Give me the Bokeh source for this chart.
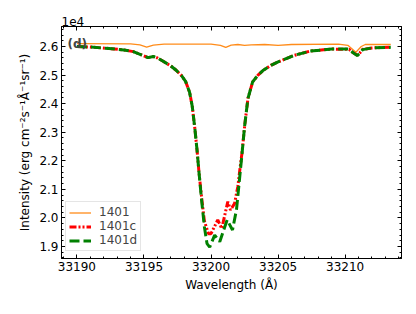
import numpy as np
from bokeh.plotting import figure
from bokeh.models import (Range1d, FixedTicker, PrintfTickFormatter, LinearAxis,
                          Label, Legend, LegendItem, Title)
from bokeh.embed import file_html
from bokeh.resources import INLINE

# ---- data (intensity in units of 1e4 erg cm^-2 s^-1 A^-1 sr^-1) ----
wl_1401 = [33190.0, 33194.0, 33194.7, 33195.2, 33195.7, 33196.5, 33200.0, 33200.7,
           33201.1, 33201.5, 33202.0, 33202.5, 33203.0, 33204.0, 33205.0, 33206.0,
           33209.5, 33210.2, 33210.8, 33211.2, 33211.5, 33213.4]
int_1401 = [2.610, 2.609, 2.606, 2.598, 2.605, 2.608, 2.608, 2.604,
            2.597, 2.605, 2.607, 2.604, 2.606, 2.607, 2.604, 2.607,
            2.608, 2.604, 2.580, 2.600, 2.607, 2.607]

wl_1401c = [33190.0, 33191.0, 33192.4, 33193.5, 33194.2, 33194.8, 33195.3, 33195.7,
            33196.0, 33196.4, 33197.0, 33197.4, 33197.8, 33198.1, 33198.4, 33198.6,
            33198.8, 33198.95, 33199.1, 33199.3, 33199.5, 33199.8, 33200.0, 33200.5,
            33200.8, 33201.25, 33201.45, 33201.75, 33202.0, 33202.15, 33202.3, 33202.5,
            33202.75, 33203.1, 33203.5, 33203.9, 33204.5, 33205.0, 33206.2, 33207.4,
            33209.0, 33210.3, 33210.6, 33210.9, 33211.1, 33211.3, 33212.0, 33213.4]
int_1401c = [2.600, 2.598, 2.593, 2.588, 2.582, 2.571, 2.561, 2.565,
             2.560, 2.549, 2.532, 2.517, 2.498, 2.478, 2.440, 2.390,
             2.310, 2.240, 2.160, 2.070, 1.990, 1.945, 1.945, 1.993,
             1.963, 2.057, 2.028, 2.050, 2.110, 2.170, 2.225, 2.320,
             2.418, 2.476, 2.500, 2.517, 2.535, 2.546, 2.569, 2.584,
             2.591, 2.590, 2.578, 2.570, 2.578, 2.590, 2.595, 2.598]

wl_1401d = [33190.0, 33191.0, 33192.4, 33193.5, 33194.2, 33194.8, 33195.3, 33195.7,
            33196.0, 33196.4, 33197.0, 33197.4, 33197.8, 33198.1, 33198.4, 33198.6,
            33198.8, 33198.95, 33199.1, 33199.3, 33199.5, 33199.7, 33199.9, 33200.27,
            33200.65, 33201.2, 33201.6, 33201.9, 33202.1, 33202.3, 33202.5, 33202.75,
            33203.1, 33203.5, 33203.9, 33204.5, 33205.0, 33206.2, 33207.4, 33209.0,
            33210.3, 33210.6, 33210.9, 33211.1, 33211.3, 33212.0, 33213.4]
int_1401d = [2.600, 2.598, 2.593, 2.588, 2.582, 2.571, 2.561, 2.565,
             2.560, 2.549, 2.532, 2.517, 2.498, 2.478, 2.440, 2.390,
             2.310, 2.240, 2.160, 2.060, 1.970, 1.910, 1.898, 1.940,
             1.917, 1.993, 1.958, 2.030, 2.125, 2.220, 2.320, 2.418,
             2.476, 2.500, 2.517, 2.535, 2.546, 2.569, 2.584, 2.591,
             2.591, 2.578, 2.568, 2.576, 2.589, 2.595, 2.597]

x_ticks = [33190, 33195, 33200, 33205, 33210]
y_ticks = [1.9, 2.0, 2.1, 2.2, 2.3, 2.4, 2.5, 2.6]
series_labels = ["1401", "1401c", "1401d"]

FONT = "DejaVu Sans"

p = figure(frame_width=340, frame_height=232, output_backend="svg", toolbar_location=None,
           x_range=Range1d(33188.85, 33214.2), y_range=Range1d(1.858, 2.67),
           min_border_left=61, min_border_right=4, min_border_top=26, min_border_bottom=36,
           background_fill_color="white", border_fill_color="white")
p.xgrid.visible = False
p.ygrid.visible = False
p.outline_line_color = "black"
p.outline_line_width = 1

x_minor = [33189 + i for i in range(26)]
y_minor = [round(1.86 + 0.02 * i, 2) for i in range(41)]


def style_axis(ax, ticks, minor, fmt, show_labels):
    ax.ticker = FixedTicker(ticks=ticks, minor_ticks=minor)
    ax.formatter = PrintfTickFormatter(format=fmt)
    ax.major_tick_in = 4
    ax.major_tick_out = 0
    ax.minor_tick_in = 2
    ax.minor_tick_out = 0
    ax.axis_line_color = "black"
    ax.major_tick_line_color = "black"
    ax.minor_tick_line_color = "black"
    ax.major_label_text_font = FONT
    if show_labels:
        ax.major_label_text_color = "black"
        ax.major_label_text_font_size = "12px"
        ax.major_label_standoff = 3
    else:
        ax.major_label_text_color = None
        ax.major_label_text_font_size = "0px"
        ax.major_label_standoff = 0


style_axis(p.xaxis[0], x_ticks, x_minor, "%d", True)
style_axis(p.yaxis[0], y_ticks, y_minor, "%.1f", True)
for ax, lab in ((p.xaxis[0], "Wavelength (Å)"),
                (p.yaxis[0], "Intensity (erg cm⁻²s⁻¹Å⁻¹sr⁻¹)")):
    ax.axis_label = lab
    ax.axis_label_text_font = FONT
    ax.axis_label_text_font_size = "12px"
    ax.axis_label_text_font_style = "normal"
    ax.axis_label_text_color = "black"
    ax.axis_label_standoff = 4

top_ax = LinearAxis()
right_ax = LinearAxis()
style_axis(top_ax, x_ticks, x_minor, "%d", False)
style_axis(right_ax, y_ticks, y_minor, "%.1f", False)
p.add_layout(top_ax, "above")
p.add_layout(right_ax, "right")

# offset text "1e4" above the frame, left aligned
p.add_layout(Title(text="1e4", align="left", text_font=FONT, text_font_size="12px",
                   text_font_style="normal", text_color="black", standoff=2, offset=0),
             "above")

r1 = p.line(wl_1401, int_1401, line_color="#ff8c1a", line_width=1.3)
r2 = p.line(wl_1401c, int_1401c, line_color="red", line_width=3,
            line_dash="7 2 2 2 2 2")
r3 = p.line(wl_1401d, int_1401d, line_color="green", line_width=3,
            line_dash="10 4")

legend = Legend(items=[LegendItem(label=series_labels[0], renderers=[r1]),
                       LegendItem(label=series_labels[1], renderers=[r2]),
                       LegendItem(label=series_labels[2], renderers=[r3])],
                location=(4, 7))
legend.label_text_font = FONT
legend.label_text_font_size = "12px"
legend.label_height = 13
legend.glyph_height = 13
legend.glyph_width = 22
legend.spacing = 0
legend.padding = 3
legend.margin = 0
legend.label_standoff = 8
legend.border_line_color = "#cccccc"
legend.border_line_width = 1
legend.background_fill_alpha = 0.8
p.add_layout(legend, "center")

# panel tag
p.add_layout(Label(x=6, y=215, x_units="screen", y_units="screen", text="(d)",
                   text_font=FONT, text_font_size="12px", text_font_style="bold",
                   text_baseline="alphabetic", text_align="left"))

open("out.html", "w").write(file_html(p, INLINE))
